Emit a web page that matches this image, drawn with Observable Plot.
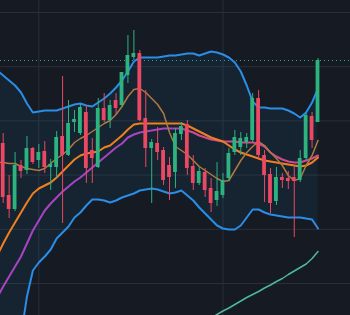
<!DOCTYPE html>
<html><head><meta charset="utf-8">
<script src="https://cdn.jsdelivr.net/npm/d3@7"></script>
<script src="https://cdn.jsdelivr.net/npm/@observablehq/plot@0.6"></script>
<style>html,body{margin:0;padding:0;background:#161a22;overflow:hidden}#chart svg{display:block}</style>
</head><body><div id="chart"></div><script>
// Candles (index 0..53)
const open  = [37.2,32.0,30.6,35.0,34.5,36.7,35.5,36.4,34.8,34.8, 37.9,36.0,39.3,38.2,40.3,36.5,34.8,40.7,39.5,41.5, 41.0,44.0,45.8,46.2,39.7,36.7,37.2,36.5,35.0,34.3, 38.1,39.1,34.9,33.2,34.3,32.7,31.5,32.0,33.7,36.3, 36.8,37.3,37.5,41.7,36.0,34.1,31.4,33.8,33.7,33.8, 33.5,35.7,39.9,39.3];
const high  = [38.2,34.0,36.3,35.5,37.9,36.8,37.1,37.4,35.6,38.4, 43.9,41.5,40.5,41.1,41.0,37.7,41.7,42.2,41.5,42.2, 44.3,48.0,48.5,46.5,42.5,37.6,38.8,36.8,35.8,38.7, 39.3,39.5,36.0,34.8,34.7,33.7,35.3,34.2,36.7,38.5, 38.3,38.2,42.2,42.5,36.5,34.7,34.8,34.2,34.4,35.0, 36.5,40.2,40.3,45.7];
const low   = [31.2,29.7,30.4,33.7,34.1,35.1,34.7,34.2,32.5,33.7, 29.2,35.9,38.3,38.0,33.2,33.2,34.7,39.3,38.7,40.1, 40.8,43.2,45.5,39.4,34.8,31.2,35.5,33.0,31.5,32.7, 37.5,34.0,32.5,33.0,31.8,30.3,30.9,31.7,33.4,36.0, 36.0,36.7,37.3,35.5,31.3,30.2,31.0,32.7,32.6,27.8, 33.3,35.5,36.7,39.3];
const close = [31.8,30.6,35.0,34.4,36.7,35.3,36.3,34.8,35.1,37.8, 36.0,39.2,39.6,40.8,34.7,35.7,40.7,39.5,41.0,40.7, 44.3,46.0,46.2,39.5,36.7,37.3,36.3,33.5,33.8,38.2, 38.9,34.7,33.2,34.4,32.5,31.2,32.4,33.5,36.2,37.8, 37.7,37.8,41.7,36.0,34.0,31.2,33.8,33.5,33.4,33.4, 35.7,40.0,37.5,45.5];

// Indicator lines (index -1..53)
const upperBand = [44.5,44.0,43.5,43.0,42.3, 41.2,40.3,40.4,40.5,40.5, 40.5,40.7,40.9,41.1,41.2, 41.0,40.9,41.3,41.7,42.2, 42.8,43.5,44.4,45.4,45.8, 45.8,45.8,45.8,45.9,46.0, 46.0,46.1,46.2,46.2,46.0, 46.2,46.4,46.3,46.1,45.8, 45.3,44.4,43.0,41.4,40.8, 40.8,40.7,40.7,40.7,40.5, 40.2,39.8,40.3,41.3,42.7];
const lowerBand = [9.5,11.0,13.0,15.5,18.0, 21.9,24.5,25.3,25.9,26.6, 27.7,28.3,28.9,29.8,30.3, 31.0,31.6,31.6,31.5,31.3, 31.5,31.8,32.0,32.2,32.5, 32.6,32.7,32.6,32.4,32.2, 32.3,32.5,32.0,31.5,30.8, 30.2,29.6,29.0,28.7,28.6, 28.6,29.0,29.8,30.6,30.6, 30.3,30.1,30.0,29.9,29.8, 29.8,29.8,29.7,29.6,28.7];
const basis     = [26.0,27.2,28.3,29.3,30.3, 31.3,32.2,32.7,33.0,33.3, 33.8,34.4,35.0,35.6,36.0, 36.2,36.3,36.4,36.8,37.0, 37.5,38.0,38.6,39.1,39.2, 39.2,39.2,39.2,39.2,39.2, 39.2,39.2,39.0,38.7,38.4, 38.1,37.8,37.6,37.4,37.0, 36.6,36.3,36.1,35.9,35.7, 35.5,35.4,35.3,35.2,35.1, 35.0,34.9,35.0,35.3,35.8];
const fastMA    = [35.3,35.3,35.2,35.2,34.9, 34.7,34.6,34.5,34.7,35.2, 35.7,36.1,36.6,37.3,37.7, 38.0,38.4,38.8,39.2,39.5, 40.1,40.9,41.9,42.6,42.7, 42.3,41.7,41.1,40.2,38.3, 36.9,36.5,36.1,35.5,34.9, 34.5,34.1,33.7,33.4,33.5, 34.5,35.5,36.3,36.9,37.4, 37.0,36.3,35.7,35.0,34.0, 33.5,33.7,35.0,36.0,37.5];
const slowMA    = [21.8,22.9,23.9,24.9,25.9, 27.2,28.5,29.5,30.5,31.2, 31.8,32.4,32.9,33.4,33.8, 34.3,34.8,35.3,35.8,36.3, 36.8,37.2,37.8,38.1,38.3, 38.4,38.5,38.6,38.7,38.7, 38.7,38.7,38.5,38.3,38.0, 37.8,37.6,37.5,37.4,37.4, 37.4,37.3,37.3,37.3,37.2, 36.9,36.3,35.9,35.6,35.4, 35.3,35.3,35.5,35.7,36.0];
// Long MA (index 34..53)
const longMA    = [19.4,19.75,20.1,20.45,20.75,21.1,21.45,21.8,22.1,22.4,22.75,23.05,23.4,23.7,24.1,24.45,24.8,25.15,25.7,26.4];
const lastPrice = 45.5;
const gridPrices = [23.2, 28.62, 34.04, 39.46, 44.88, 50.3];
const gridBars = [6, 37];

const candles = open.map((o, i) => ({i, open: o, high: high[i], low: low[i], close: close[i]}));
const up = candles.filter(d => d.close >= d.open);
const down = candles.filter(d => d.close < d.open);
const lines = upperBand.map((u, k) => ({i: k - 1, upper: u, lower: lowerBand[k], basis: basis[k], fast: fastMA[k], slow: slowMA[k]}));
const longData = longMA.map((v, k) => ({i: k + 34, v}));

const GREEN = "#2db37f", RED = "#ea4863";

const chart = Plot.plot({
  width: 350, height: 315,
  marginTop: 0, marginRight: 0, marginBottom: 0, marginLeft: 0,
  x: {domain: [-0.455, 58.47], axis: null},
  y: {domain: [20, 51.5], axis: null},
  style: {background: "#161a22"},
  marks: [
    Plot.ruleY(gridPrices, {stroke: "#2b2f39", strokeWidth: 1}),
    Plot.ruleX(gridBars, {stroke: "#2b2f39", strokeWidth: 1}),
    Plot.areaY(lines, {x: "i", y1: "lower", y2: "upper", fill: "#2196f3", fillOpacity: 0.07, clip: true}),
    Plot.ruleY([lastPrice], {stroke: "#26a69a", strokeWidth: 1, strokeDasharray: "1,3"}),
    Plot.line(lines, {x: "i", y: "upper", stroke: "#2a8de6", strokeWidth: 2, clip: true}),
    Plot.line(lines, {x: "i", y: "lower", stroke: "#2a8de6", strokeWidth: 2, clip: true}),
    Plot.line(longData, {x: "i", y: "v", stroke: "#4db6a4", strokeWidth: 1.5, clip: true}),
    Plot.line(lines.filter(d => d.i <= 31), {x: "i", y: "slow", stroke: "#a844c4", strokeWidth: 2, clip: true}),
    Plot.line(lines.filter(d => d.i >= 31), {x: "i", y: "slow", stroke: "#cf4a8e", strokeWidth: 2, clip: true}),
    Plot.line(lines, {x: "i", y: "basis", stroke: "#f0801f", strokeWidth: 2, clip: true}),
    Plot.line(lines, {x: "i", y: "fast", stroke: "#b07a3e", strokeWidth: 1.5, clip: true}),
    Plot.ruleX(up, {x: "i", y1: "low", y2: "high", stroke: GREEN, strokeWidth: 1}),
    Plot.ruleX(down, {x: "i", y1: "low", y2: "high", stroke: RED, strokeWidth: 1}),
    Plot.rect(up, {x1: d => d.i - 0.32, x2: d => d.i + 0.32, y1: "open", y2: "close", fill: GREEN}),
    Plot.rect(down, {x1: d => d.i - 0.32, x2: d => d.i + 0.32, y1: "open", y2: "close", fill: RED})
  ]
});
document.getElementById("chart").append(chart);
</script></body></html>
